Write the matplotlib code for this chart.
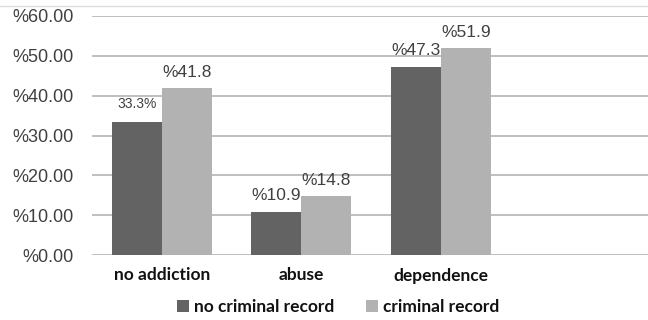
import matplotlib
matplotlib.use("Agg")
import matplotlib.pyplot as plt
from matplotlib.lines import Line2D
from matplotlib.patches import Patch
import numpy as np

categories = ["no addiction", "abuse", "dependence"]
no_record = [33.3, 10.9, 47.3]
with_record = [41.8, 14.8, 51.9]
no_record_labels = ["33.3%", "%10.9", "%47.3"]
with_record_labels = ["%41.8", "%14.8", "%51.9"]
yticks = [0, 10, 20, 30, 40, 50, 60]
ytick_labels = ["%0.00", "%10.00", "%20.00", "%30.00", "%40.00", "%50.00", "%60.00"]
series_names = ["no criminal record", "criminal record"]

dark = "#636363"
light = "#b2b2b2"
grid_c = "#b4b4b4"
text_c = "#404040"

W, H = 648, 320
fig = plt.figure(figsize=(W / 100, H / 100), dpi=100)
ax = fig.add_axes([92 / W, 65 / H, 558 / W, 239 / H])

x = np.arange(len(categories))
bw = 0.36
b1 = ax.bar(x - bw / 2, no_record, bw, color=dark, zorder=3)
b2 = ax.bar(x + bw / 2, with_record, bw, color=light, zorder=3)

for rect, lab in zip(b1, no_record_labels):
    fs = 10 if lab.endswith("%") else 12.5
    ax.annotate(lab, (rect.get_x() + rect.get_width() / 2, rect.get_height()),
                xytext=(0, 8 if fs == 10 else 6), textcoords="offset points",
                ha="center", va="bottom", fontsize=fs, color=text_c,
                family="Liberation Sans", zorder=4)
for rect, lab in zip(b2, with_record_labels):
    ax.annotate(lab, (rect.get_x() + rect.get_width() / 2, rect.get_height()),
                xytext=(0, 6), textcoords="offset points",
                ha="center", va="bottom", fontsize=12.5, color=text_c,
                family="Liberation Sans", zorder=4)

ax.set_xlim(-0.5, 3.5)
ax.set_ylim(0, 60)
ax.set_yticks(yticks)
ax.set_yticklabels(ytick_labels, family="Liberation Sans", fontsize=13, color=text_c)
ax.set_xticks(x)
ax.set_xticklabels(categories, family="Lato", fontweight="bold", fontsize=12.5, color="#111111")
ax.tick_params(axis="y", length=0, pad=13)
ax.tick_params(axis="x", length=0, pad=9)
ax.yaxis.grid(True, color=grid_c, linewidth=1.2, zorder=0)
for s in ax.spines.values():
    s.set_visible(False)

handles = [Patch(facecolor=dark), Patch(facecolor=light)]
fig.legend(handles, series_names, loc="center", bbox_to_anchor=(0.522, 0.04), ncol=2,
           frameon=False, prop={"family": "Lato", "weight": "bold", "size": 12.5},
           handlelength=0.7, handleheight=0.7, handletextpad=0.3, columnspacing=1.8,
           labelcolor="#111111")

fig.add_artist(Line2D([0, 1], [1 - 6 / H, 1 - 6 / H], color="#dcdcdc", linewidth=1,
                      transform=fig.transFigure))

fig.savefig("out.png", dpi=100)
